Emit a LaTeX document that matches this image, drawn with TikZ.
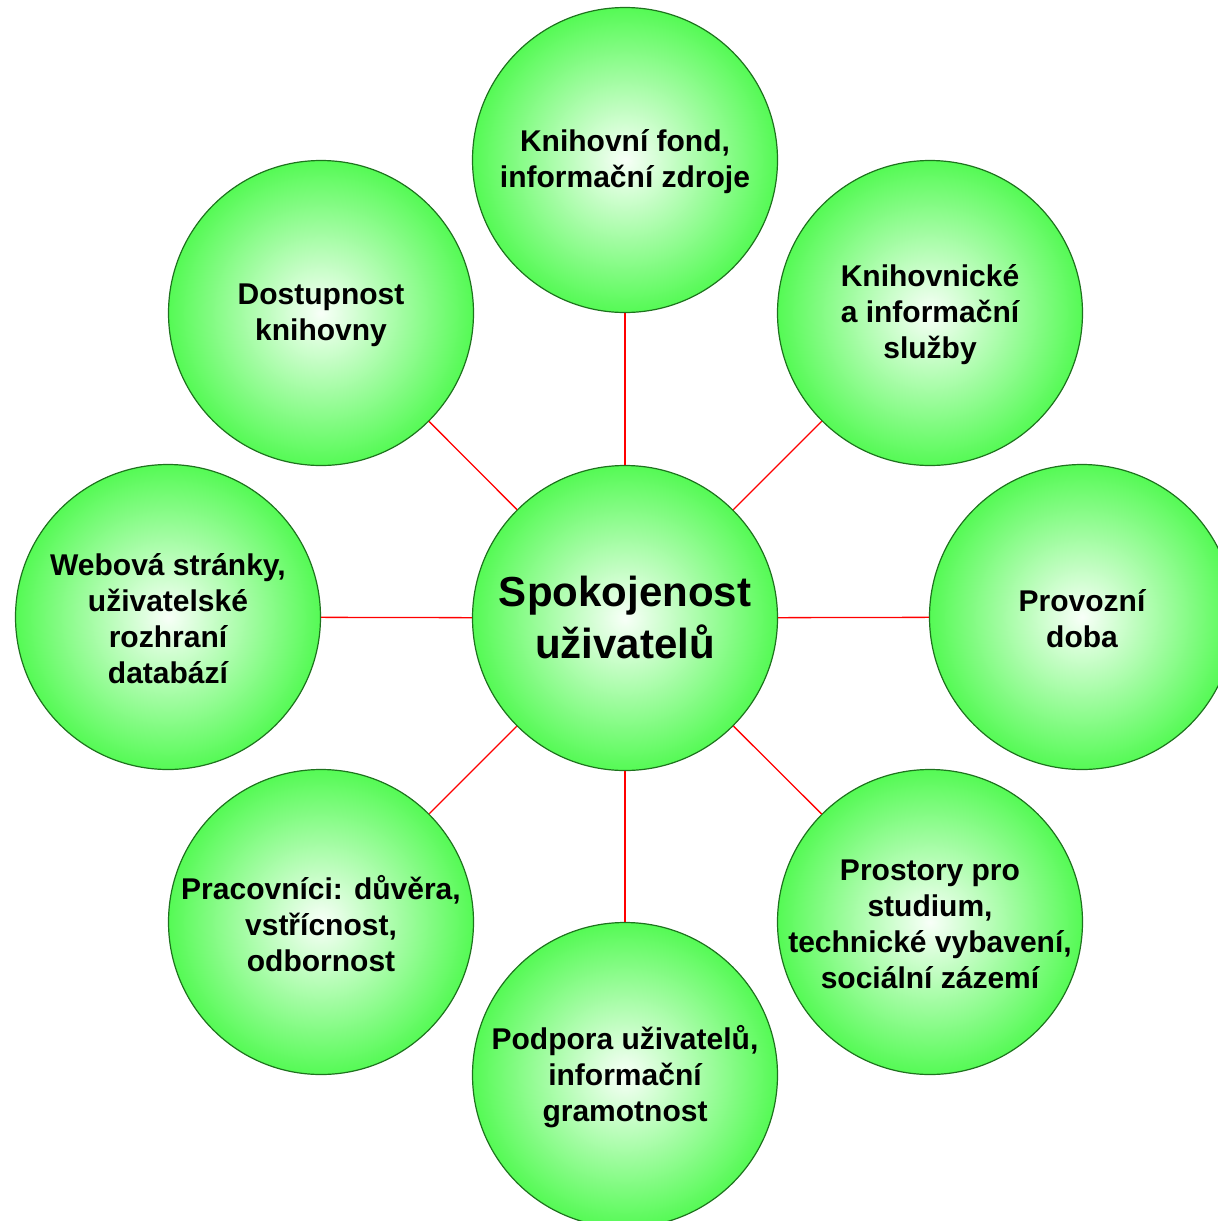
\documentclass[tikz,border=0pt]{standalone}
\usepackage{fontspec}
\setmainfont{Liberation Sans}
\definecolor{bubblegreen}{RGB}{85,250,85}
\definecolor{bubblecore}{RGB}{248,255,248}
\definecolor{rimgreen}{RGB}{30,115,30}
\tikzset{
  bubble/.style={circle, draw=rimgreen, line width=1.2pt, inner color=bubblecore,
    outer color=bubblegreen, minimum size=305pt, inner sep=0pt},
  bubbletext/.style={align=center, font=\bfseries\fontsize{30}{36}\selectfont, inner sep=0pt, yshift=-2pt},
  spoke/.style={red, line width=1.3pt}
}
\begin{document}
\begin{tikzpicture}[x=1pt,y=-1pt]
	\useasboundingbox (0,0) rectangle (1218,1221);
	\clip (0,0) rectangle (1218,1221);
	% hub
	\node[bubble] (hub) at (625,618) {};
	\node[bubbletext, font=\bfseries\fontsize{42}{52}\selectfont, yshift=3pt] (hub-t) at (hub) {Spokojenost\\uživatelů};
	% eight factors
	\foreach \n/\x/\y/\t in {fond/625/160/{Knihovní fond,\\informační zdroje},
			sluzby/930/313/{Knihovnické\\a informační\\služby},
			doba/1082/617/{Provozní\\doba},
			prostory/930/922/{Prostory pro\\studium,\\technické vybavení,\\sociální zázemí},
			podpora/625/1075/{Podpora uživatelů,\\informační\\gramotnost},
			pracovnici/321/922/{Pracovníci: důvěra,\\vstřícnost,\\odbornost},
			web/168/617/{Webová stránky,\\uživatelské\\rozhraní\\databází},
			dostupnost/321/313/{Dostupnost\\knihovny}}
	{
		\node[bubble] (\n) at (\x,\y) {};
		\node[bubbletext] (\n-t) at (\n) {\t};
		\draw[spoke] (hub) -- (\n);
	}
\end{tikzpicture}
\end{document}
